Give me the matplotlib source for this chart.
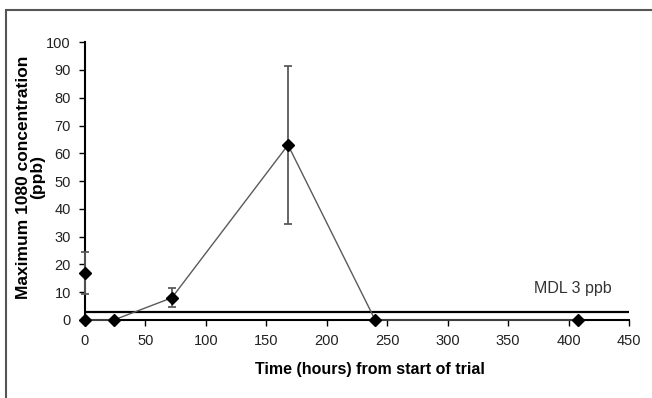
import matplotlib.pyplot as plt
from matplotlib.patches import Rectangle

plt.rcParams['font.family'] = ['Liberation Sans', 'DejaVu Sans']

# series joined by a line
hours = [0, 24, 72, 168, 240, 408]
conc = [0, 0, 8, 63, 0, 0]
conc_err = [0, 0, 3.5, 28.5, 0, 0]

# separate point at start of trial
start_hours = [0]
start_conc = [17]
start_err = [7.5]

mdl = 3

fig = plt.figure(figsize=(6.52, 3.98), dpi=100)
ax = fig.add_axes([0.130, 0.196, 0.835, 0.698])

# outer frame of the chart area
fig.patches.append(Rectangle((6 / 652, -0.1), 1.1, 1.1 - 10 / 398,
                             transform=fig.transFigure, fill=False,
                             edgecolor='#555555', linewidth=1.5))

for x, y, e, ls in [(hours, conc, conc_err, '-'),
                    (start_hours, start_conc, start_err, 'none')]:
    cont = ax.errorbar(x, y, yerr=e, color='#5a5a5a', linewidth=1,
                       linestyle=ls, elinewidth=1.3, capsize=3, capthick=1.3,
                       marker='D', markersize=6, markerfacecolor='black',
                       markeredgecolor='black', zorder=3)
    for art in cont.get_children():
        art.set_clip_on(False)

ax.axhline(mdl, color='black', linewidth=1.6, zorder=2)
ax.text(403, 11.5, 'MDL 3 ppb', fontsize=11.5, color='#333333',
        ha='center', va='center')

ax.set_xlim(0, 450)
ax.set_ylim(0, 100)
ax.set_xticks(range(0, 451, 50))
ax.set_yticks(range(0, 101, 10))
ax.spines['top'].set_visible(False)
ax.spines['right'].set_visible(False)
ax.spines['left'].set_linewidth(1.5)
ax.spines['bottom'].set_linewidth(1.5)
ax.tick_params(direction='out', length=4, width=1, labelsize=10.5,
               labelcolor='#222222', pad=6)

ax.set_xlabel('Time (hours) from start of trial', fontsize=11.5,
              fontweight='bold', va='center')
ax.xaxis.set_label_coords(0.524, -0.18)
ax.set_ylabel('Maximum 1080 concentration\n(ppb)', fontsize=12.5,
              fontweight='bold', linespacing=0.95, va='center')
ax.yaxis.set_label_coords(-0.1, 0.513)

fig.savefig('out.png', dpi=100)
